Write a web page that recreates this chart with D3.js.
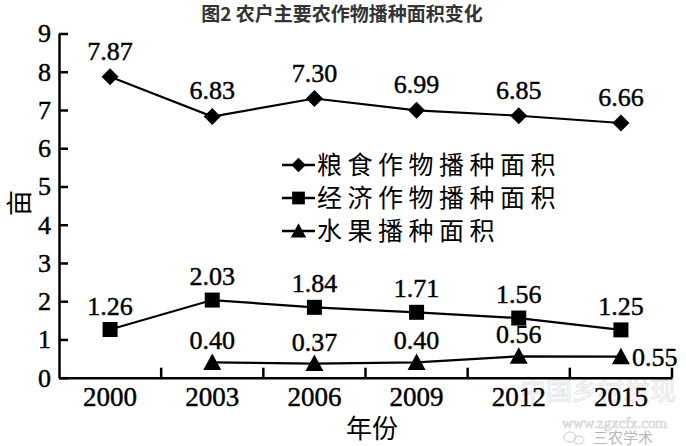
<!DOCTYPE html>
<html>
<head>
<meta charset="utf-8">
<script src="https://cdn.jsdelivr.net/npm/d3@7"></script>
<style>
  html, body { margin: 0; padding: 0; background: #fff; }
  svg { display: block; }
</style>
</head>
<body>
<div id="chart"></div>
<script>
// values
const years = ["2000", "2003", "2006", "2009", "2012", "2015"];
const grain = [7.87, 6.83, 7.30, 6.99, 6.85, 6.66];
const cash = [1.26, 2.03, 1.84, 1.71, 1.56, 1.25];
const fruit = [null, 0.40, 0.37, 0.40, 0.56, 0.55];
const seriesNames = ["粮食作物播种面积", "经济作物播种面积", "水果播种面积"];
const yTicks = [0, 1, 2, 3, 4, 5, 6, 7, 8, 9];
const titleText = "图2 农户主要农作物播种面积变化";
const xTitle = "年份";
const yTitle = "亩";

let width = 686;
let height = 446;
let serif = "Liberation Serif";
let cjk = "Noto Sans CJK SC";

let svg = d3.select("#chart")
    .append("svg")
    .attr("width", width)
    .attr("height", height)
    .style("font-family", serif);

// scales
let x = d3.scaleBand()
    .domain(years)
    .range([59, 672])
    .padding(0);

let y = d3.scaleLinear()
    .domain([0, 9])
    .range([377.7, 33.5]);

// marker shapes, drawn around (0,0)
let shapes = {
    diamond: "M0,-8.5L8.5,0L0,8.5L-8.5,0Z",
    square: "M-7.5,-7.5H7.5V7.5H-7.5Z",
    triangle: "M0,-9L9,7.5H-9Z"
};

// numbers in the picture are a heavy Times, thicken them a little
function numText(sel, size) {
    sel.style("font-family", serif)
        .attr("font-size", size)
        .attr("fill", "black")
        .attr("stroke", "black")
        .attr("stroke-width", 0.45);
}

// title
svg.append("text")
    .style("font-family", cjk)
    .attr("x", 342)
    .attr("y", 21)
    .attr("text-anchor", "middle")
    .attr("font-weight", "bold")
    .attr("font-size", "19px")
    .attr("fill", "#333")
    .text(titleText);

// watermark bottom right
svg.append("text")
    .style("font-family", cjk)
    .attr("x", 520)
    .attr("y", 400)
    .attr("font-size", "26px")
    .attr("fill", "none")
    .attr("stroke", "#e2e2e2")
    .attr("stroke-width", 0.8)
    .text("中国乡村发现");

svg.append("text")
    .style("font-family", serif)
    .attr("x", 562)
    .attr("y", 428)
    .attr("font-size", "15px")
    .attr("fill", "none")
    .attr("stroke", "#d4d4d4")
    .attr("stroke-width", 0.7)
    .attr("textLength", 105)
    .text("www.zgxcfx.com");

svg.append("ellipse")
    .attr("cx", 570).attr("cy", 437).attr("rx", 6).attr("ry", 5)
    .attr("fill", "none").attr("stroke", "#ccc");
svg.append("ellipse")
    .attr("cx", 579).attr("cy", 440).attr("rx", 5).attr("ry", 4)
    .attr("fill", "none").attr("stroke", "#ccc");

svg.append("text")
    .style("font-family", cjk)
    .attr("x", 593)
    .attr("y", 443)
    .attr("font-size", "15px")
    .attr("fill", "#b8b8b8")
    .text("三农学术");

// Y axis, ticks pointing inside
let yAxis = d3.axisLeft(y)
    .tickValues(yTicks)
    .tickFormat(d3.format("d"))
    .tickSizeInner(-9)
    .tickSizeOuter(0)
    .tickPadding(8);

let yG = svg.append("g")
    .attr("transform", "translate(59,0)")
    .call(yAxis)
    .attr("font-family", serif);

yG.select(".domain").attr("stroke", "black").attr("stroke-width", 2.5);
yG.selectAll(".tick line").attr("stroke", "black").attr("stroke-width", 2.5);
yG.selectAll(".tick text").call(numText, "26px");

// X axis, labels at band centers
let xAxis = d3.axisBottom(x)
    .tickSize(0)
    .tickPadding(9);

let xG = svg.append("g")
    .attr("transform", "translate(0," + y(0) + ")")
    .call(xAxis)
    .attr("font-family", serif);

xG.select(".domain").attr("stroke", "black").attr("stroke-width", 2.5);
xG.selectAll(".tick text").call(numText, "27px");

// x tick marks sit on the band edges and point up
svg.append("g")
    .selectAll("line")
    .data(years)
    .enter()
    .append("line")
        .attr("x1", d => x(d) + x.bandwidth())
        .attr("x2", d => x(d) + x.bandwidth())
        .attr("y1", y(0))
        .attr("y2", y(0) - 10)
        .attr("stroke", "black")
        .attr("stroke-width", 2.5);

// axis titles
svg.append("text")
    .style("font-family", cjk)
    .attr("transform", "translate(29,203) rotate(-90)")
    .attr("text-anchor", "middle")
    .attr("font-size", "26px")
    .attr("fill", "black")
    .text(yTitle);

svg.append("text")
    .style("font-family", cjk)
    .attr("x", 372)
    .attr("y", 429)
    .attr("dy", "0.36em")
    .attr("text-anchor", "middle")
    .attr("font-size", "26px")
    .attr("fill", "black")
    .text(xTitle);

// the three series
let series = [
    {name: seriesNames[0], values: grain, shape: "diamond", labelDy: -17},
    {name: seriesNames[1], values: cash, shape: "square", labelDy: -15},
    {name: seriesNames[2], values: fruit, shape: "triangle", labelDy: -13}
];

let line = d3.line()
    .defined(d => d.v != null)
    .x(d => x(d.year) + x.bandwidth() / 2)
    .y(d => y(d.v));

series.forEach(function(s, si) {
    let pts = years.map((yr, i) => ({year: yr, v: s.values[i], i: i}));
    let g = svg.append("g");

    g.append("path")
        .datum(pts)
        .attr("d", line)
        .attr("fill", "none")
        .attr("stroke", "black")
        .attr("stroke-width", 2.2);

    let valid = pts.filter(d => d.v != null);

    g.selectAll("path.mark")
        .data(valid)
        .enter()
        .append("path")
            .attr("class", "mark")
            .attr("d", shapes[s.shape])
            .attr("transform", d => "translate(" + (x(d.year) + x.bandwidth() / 2) + "," + y(d.v) + ")")
            .attr("fill", "black");

    // last fruit label sits to the right of its marker
    let isSide = d => si == 2 && d.i == years.length - 1;

    g.selectAll("text")
        .data(valid)
        .enter()
        .append("text")
            .call(numText, "26px")
            .attr("text-anchor", d => isSide(d) ? "start" : "middle")
            .attr("x", d => x(d.year) + x.bandwidth() / 2 + (isSide(d) ? 11 : 0))
            .attr("y", d => y(d.v) + (isSide(d) ? 9 : s.labelDy))
            .text(d => d3.format(".2f")(d.v));
});

// legend
let legend = svg.append("g")
    .selectAll("g")
    .data(series)
    .enter()
    .append("g")
        .attr("transform", (d, i) => "translate(282," + (165 + i * 33) + ")");

legend.append("line")
    .attr("x1", 0)
    .attr("x2", 33)
    .attr("stroke", "black")
    .attr("stroke-width", 2.5);

legend.append("path")
    .attr("d", d => shapes[d.shape])
    .attr("transform", "translate(16.5,0) scale(0.85)")
    .attr("fill", "black");

legend.append("text")
    .style("font-family", cjk)
    .attr("x", 35)
    .attr("dy", "0.36em")
    .attr("font-size", "25px")
    .attr("letter-spacing", "5.5px")
    .attr("fill", "black")
    .text(d => d.name);
</script>
</body>
</html>
